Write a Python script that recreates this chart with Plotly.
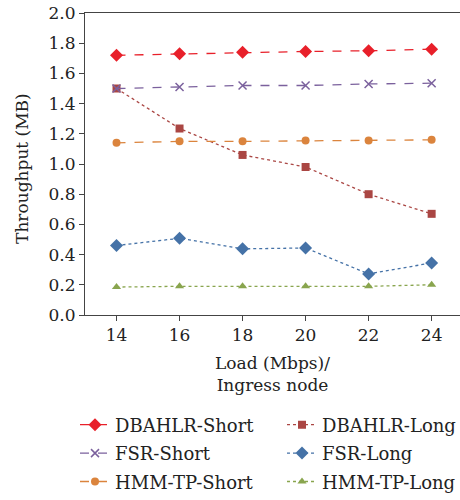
import plotly.graph_objects as go

loads = [14, 16, 18, 20, 22, 24]
dbahlr_short = [1.72, 1.73, 1.74, 1.745, 1.75, 1.76]
dbahlr_long = [1.50, 1.235, 1.06, 0.98, 0.80, 0.67]
fsr_short = [1.50, 1.51, 1.52, 1.52, 1.53, 1.535]
fsr_long = [0.46, 0.508, 0.438, 0.444, 0.272, 0.345]
hmm_short = [1.14, 1.15, 1.15, 1.155, 1.155, 1.16]
hmm_long = [0.185, 0.19, 0.19, 0.19, 0.19, 0.20]
y_title = "Throughput (MB)"
x_title = "Load (Mbps)/<br>Ingress node"

series = [
    ("DBAHLR-Short", dbahlr_short, "#E8202A", "dash", "diamond", 10, "legend"),
    ("DBAHLR-Long", dbahlr_long, "#AA4643", "dot", "square", 8, "legend2"),
    ("FSR-Short", fsr_short, "#7B619D", "dash", "x-thin", 8, "legend"),
    ("FSR-Long", fsr_long, "#4572A7", "dot", "diamond", 10, "legend2"),
    ("HMM-TP-Short", hmm_short, "#DB843D", "dash", "circle", 8, "legend"),
    ("HMM-TP-Long", hmm_long, "#89A54E", "dot", "triangle-up", 8, "legend2"),
]

FONT = "DejaVu Serif"
fig = go.Figure()
for name, ys, color, dash, sym, size, leg in series:
    fig.add_trace(go.Scatter(
        x=loads, y=ys, name=name, mode="lines+markers",
        legend=leg, legendgroup=name,
        line=dict(color=color, width=1.3, dash=dash),
        marker=dict(symbol=sym, size=size, color=color,
                    line=dict(color=color, width=1.5 if sym == "x-thin" else 0)),
    ))

leg_common = dict(
    orientation="v", xref="container", yref="container",
    xanchor="left", yanchor="top", tracegroupgap=2,
    font=dict(family=FONT, size=18, color="#222"),
    bgcolor="rgba(0,0,0,0)",
)

fig.update_layout(
    width=460, height=500,
    margin=dict(l=85, r=0, t=13, b=185, autoexpand=False),
    paper_bgcolor="white", plot_bgcolor="white",
    font=dict(family=FONT, size=17, color="#222"),
    showlegend=True,
    legend=dict(x=75 / 460, y=0.187, **leg_common),
    legend2=dict(x=282 / 460, y=0.187, **leg_common),
    xaxis=dict(
        range=[13, 24.9], tickvals=loads, ticks="outside", ticklen=5,
        showline=True, linecolor="#444", linewidth=1, mirror=True,
        showgrid=False, zeroline=False, tickfont=dict(size=17),
        title=dict(text=x_title, font=dict(size=17), standoff=12),
    ),
    yaxis=dict(
        range=[0, 2.0], tickvals=[i / 10 for i in range(0, 21, 2)],
        tickformat=".1f", ticks="outside", ticklen=5,
        showline=True, linecolor="#444", linewidth=1,
        showgrid=False, zeroline=False, tickfont=dict(size=17),
    ),
    annotations=[dict(
        text=y_title, xref="paper", yref="paper", x=-0.168, y=0.487,
        xanchor="center", yanchor="middle", textangle=-90, showarrow=False,
        font=dict(family=FONT, size=17, color="#222"),
    )],
)

fig.write_html("out.html")
